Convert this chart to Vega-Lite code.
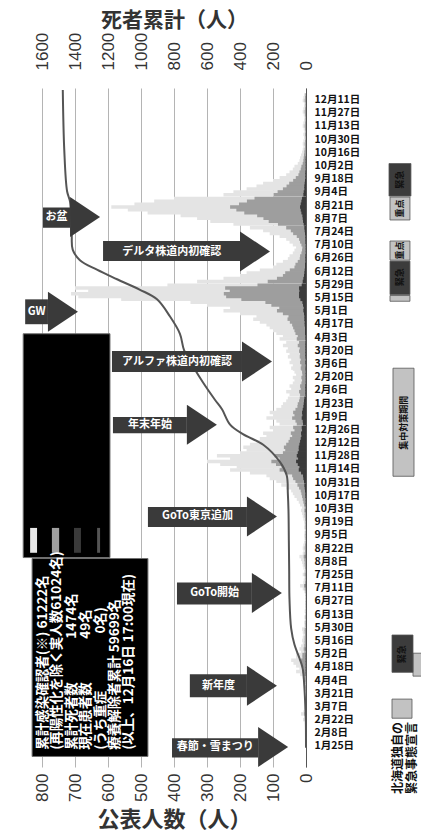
{
"$schema": "https://vega.github.io/schema/vega-lite/v6.json",
"width": 264,
"height": 679,
"autosize": "none",
"padding": {"left": 42, "top": 88, "right": 115, "bottom": 69},
"background": "#ffffff",
"config": {"view": {"stroke": null}, "font": "Noto Sans CJK JP"},
"datasets": {
"cases": [
{"d":"2020-01-28","t":1,"m":0,"k":0},
{"d":"2020-02-01","t":0,"m":0,"k":0},{"d":"2020-02-04","t":0,"m":0,"k":0},{"d":"2020-02-07","t":0,"m":0,"k":0},{"d":"2020-02-10","t":0,"m":0,"k":0},{"d":"2020-02-13","t":1,"m":0,"k":0},{"d":"2020-02-16","t":2,"m":1,"k":0},{"d":"2020-02-19","t":3,"m":1,"k":0},{"d":"2020-02-22","t":9,"m":3,"k":0},{"d":"2020-02-25","t":5,"m":2,"k":0},{"d":"2020-02-28","t":15,"m":5,"k":1},
{"d":"2020-03-01","t":8,"m":3,"k":0},{"d":"2020-03-04","t":5,"m":2,"k":0},{"d":"2020-03-07","t":4,"m":1,"k":0},{"d":"2020-03-10","t":3,"m":1,"k":0},{"d":"2020-03-13","t":4,"m":1,"k":0},{"d":"2020-03-16","t":2,"m":1,"k":0},{"d":"2020-03-19","t":1,"m":0,"k":0},{"d":"2020-03-22","t":1,"m":0,"k":0},{"d":"2020-03-25","t":3,"m":1,"k":0},{"d":"2020-03-28","t":5,"m":2,"k":0},
{"d":"2020-04-01","t":5,"m":2,"k":0},{"d":"2020-04-04","t":8,"m":3,"k":0},{"d":"2020-04-07","t":10,"m":4,"k":0},{"d":"2020-04-10","t":18,"m":6,"k":1},{"d":"2020-04-13","t":30,"m":11,"k":1},{"d":"2020-04-16","t":20,"m":7,"k":1},{"d":"2020-04-19","t":30,"m":11,"k":1},{"d":"2020-04-22","t":38,"m":13,"k":1},{"d":"2020-04-25","t":45,"m":16,"k":1},{"d":"2020-04-28","t":30,"m":11,"k":1},
{"d":"2020-05-01","t":30,"m":11,"k":1},{"d":"2020-05-04","t":15,"m":5,"k":0},{"d":"2020-05-07","t":20,"m":7,"k":1},{"d":"2020-05-10","t":15,"m":5,"k":0},{"d":"2020-05-13","t":10,"m":4,"k":0},{"d":"2020-05-16","t":12,"m":4,"k":0},{"d":"2020-05-19","t":10,"m":4,"k":0},{"d":"2020-05-22","t":8,"m":3,"k":0},{"d":"2020-05-25","t":10,"m":4,"k":0},{"d":"2020-05-28","t":12,"m":4,"k":0},
{"d":"2020-06-01","t":5,"m":2,"k":0},{"d":"2020-06-04","t":6,"m":2,"k":0},{"d":"2020-06-07","t":4,"m":1,"k":0},{"d":"2020-06-10","t":5,"m":2,"k":0},{"d":"2020-06-13","t":3,"m":1,"k":0},{"d":"2020-06-16","t":4,"m":1,"k":0},{"d":"2020-06-19","t":2,"m":1,"k":0},{"d":"2020-06-22","t":3,"m":1,"k":0},{"d":"2020-06-25","t":3,"m":1,"k":0},{"d":"2020-06-28","t":2,"m":1,"k":0},
{"d":"2020-07-01","t":2,"m":1,"k":0},{"d":"2020-07-04","t":3,"m":1,"k":0},{"d":"2020-07-07","t":5,"m":2,"k":0},{"d":"2020-07-10","t":10,"m":4,"k":0},{"d":"2020-07-13","t":18,"m":6,"k":1},{"d":"2020-07-16","t":8,"m":3,"k":0},{"d":"2020-07-19","t":7,"m":2,"k":0},{"d":"2020-07-22","t":5,"m":2,"k":0},{"d":"2020-07-25","t":10,"m":4,"k":0},{"d":"2020-07-28","t":6,"m":2,"k":0},
{"d":"2020-08-01","t":8,"m":3,"k":0},{"d":"2020-08-04","t":10,"m":4,"k":0},{"d":"2020-08-07","t":12,"m":4,"k":0},{"d":"2020-08-10","t":15,"m":5,"k":0},{"d":"2020-08-13","t":20,"m":7,"k":1},{"d":"2020-08-16","t":10,"m":4,"k":0},{"d":"2020-08-19","t":8,"m":3,"k":0},{"d":"2020-08-22","t":10,"m":4,"k":0},{"d":"2020-08-25","t":8,"m":3,"k":0},{"d":"2020-08-28","t":6,"m":2,"k":0},
{"d":"2020-09-01","t":5,"m":2,"k":0},{"d":"2020-09-04","t":6,"m":2,"k":0},{"d":"2020-09-07","t":5,"m":2,"k":0},{"d":"2020-09-10","t":4,"m":1,"k":0},{"d":"2020-09-13","t":6,"m":2,"k":0},{"d":"2020-09-16","t":5,"m":2,"k":0},{"d":"2020-09-19","t":6,"m":2,"k":0},{"d":"2020-09-22","t":8,"m":3,"k":0},{"d":"2020-09-25","t":10,"m":4,"k":0},{"d":"2020-09-28","t":12,"m":4,"k":0},
{"d":"2020-10-01","t":15,"m":5,"k":1},{"d":"2020-10-04","t":12,"m":4,"k":0},{"d":"2020-10-07","t":18,"m":6,"k":1},{"d":"2020-10-10","t":22,"m":8,"k":1},{"d":"2020-10-13","t":28,"m":10,"k":1},{"d":"2020-10-16","t":35,"m":12,"k":2},{"d":"2020-10-19","t":40,"m":14,"k":2},{"d":"2020-10-22","t":45,"m":16,"k":3},{"d":"2020-10-25","t":60,"m":21,"k":4},{"d":"2020-10-28","t":75,"m":26,"k":5},
{"d":"2020-11-01","t":90,"m":32,"k":6},{"d":"2020-11-04","t":110,"m":39,"k":8},{"d":"2020-11-07","t":120,"m":42,"k":9},{"d":"2020-11-10","t":170,"m":60,"k":15},{"d":"2020-11-13","t":230,"m":80,"k":22},{"d":"2020-11-16","t":210,"m":74,"k":20},{"d":"2020-11-19","t":260,"m":91,"k":25},{"d":"2020-11-22","t":300,"m":105,"k":30},{"d":"2020-11-25","t":230,"m":80,"k":24},{"d":"2020-11-28","t":270,"m":95,"k":28},
{"d":"2020-12-01","t":200,"m":70,"k":25},{"d":"2020-12-04","t":180,"m":63,"k":22},{"d":"2020-12-07","t":190,"m":67,"k":22},{"d":"2020-12-10","t":170,"m":60,"k":20},{"d":"2020-12-13","t":150,"m":53,"k":18},{"d":"2020-12-16","t":140,"m":49,"k":16},{"d":"2020-12-19","t":120,"m":42,"k":14},{"d":"2020-12-22","t":130,"m":46,"k":15},{"d":"2020-12-25","t":100,"m":35,"k":12},{"d":"2020-12-28","t":110,"m":39,"k":13},
{"d":"2021-01-01","t":80,"m":28,"k":9},{"d":"2021-01-04","t":90,"m":32,"k":10},{"d":"2021-01-07","t":120,"m":42,"k":13},{"d":"2021-01-10","t":100,"m":35,"k":11},{"d":"2021-01-13","t":110,"m":39,"k":12},{"d":"2021-01-16","t":90,"m":32,"k":10},{"d":"2021-01-19","t":75,"m":26,"k":8},{"d":"2021-01-22","t":70,"m":25,"k":7},{"d":"2021-01-25","t":60,"m":21,"k":6},{"d":"2021-01-28","t":55,"m":19,"k":5},
{"d":"2021-02-01","t":50,"m":18,"k":2},{"d":"2021-02-04","t":60,"m":21,"k":2},{"d":"2021-02-07","t":45,"m":16,"k":2},{"d":"2021-02-10","t":50,"m":18,"k":2},{"d":"2021-02-13","t":40,"m":14,"k":1},{"d":"2021-02-16","t":35,"m":12,"k":1},{"d":"2021-02-19","t":40,"m":14,"k":1},{"d":"2021-02-22","t":30,"m":11,"k":1},{"d":"2021-02-25","t":35,"m":12,"k":1},{"d":"2021-02-28","t":40,"m":14,"k":1},
{"d":"2021-03-01","t":45,"m":16,"k":1},{"d":"2021-03-04","t":40,"m":14,"k":1},{"d":"2021-03-07","t":50,"m":18,"k":2},{"d":"2021-03-10","t":45,"m":16,"k":1},{"d":"2021-03-13","t":55,"m":19,"k":2},{"d":"2021-03-16","t":50,"m":18,"k":2},{"d":"2021-03-19","t":60,"m":21,"k":2},{"d":"2021-03-22","t":55,"m":19,"k":2},{"d":"2021-03-25","t":70,"m":25,"k":2},{"d":"2021-03-28","t":60,"m":21,"k":2},
{"d":"2021-04-01","t":80,"m":28,"k":2},{"d":"2021-04-04","t":70,"m":25,"k":2},{"d":"2021-04-07","t":90,"m":32,"k":3},{"d":"2021-04-10","t":100,"m":35,"k":3},{"d":"2021-04-13","t":110,"m":39,"k":3},{"d":"2021-04-16","t":120,"m":42,"k":4},{"d":"2021-04-19","t":140,"m":49,"k":4},{"d":"2021-04-22","t":160,"m":56,"k":5},{"d":"2021-04-25","t":150,"m":53,"k":5},{"d":"2021-04-28","t":200,"m":70,"k":6},
{"d":"2021-05-01","t":250,"m":88,"k":8},{"d":"2021-05-04","t":230,"m":81,"k":7},{"d":"2021-05-07","t":300,"m":105,"k":9},{"d":"2021-05-10","t":350,"m":123,"k":11},{"d":"2021-05-13","t":560,"m":196,"k":17},{"d":"2021-05-16","t":690,"m":242,"k":21},{"d":"2021-05-19","t":712,"m":249,"k":21},{"d":"2021-05-22","t":660,"m":231,"k":20},{"d":"2021-05-25","t":700,"m":245,"k":21},{"d":"2021-05-28","t":420,"m":147,"k":13},
{"d":"2021-06-01","t":330,"m":116,"k":10},{"d":"2021-06-04","t":250,"m":88,"k":8},{"d":"2021-06-07","t":200,"m":70,"k":6},{"d":"2021-06-10","t":180,"m":63,"k":5},{"d":"2021-06-13","t":140,"m":49,"k":4},{"d":"2021-06-16","t":100,"m":35,"k":3},{"d":"2021-06-19","t":90,"m":32,"k":3},{"d":"2021-06-22","t":70,"m":25,"k":2},{"d":"2021-06-25","t":55,"m":19,"k":2},{"d":"2021-06-28","t":50,"m":18,"k":2},
{"d":"2021-07-01","t":40,"m":14,"k":1},{"d":"2021-07-04","t":35,"m":12,"k":1},{"d":"2021-07-07","t":30,"m":11,"k":1},{"d":"2021-07-10","t":40,"m":14,"k":1},{"d":"2021-07-13","t":50,"m":18,"k":2},{"d":"2021-07-16","t":60,"m":21,"k":2},{"d":"2021-07-19","t":80,"m":28,"k":2},{"d":"2021-07-22","t":110,"m":39,"k":3},{"d":"2021-07-25","t":130,"m":46,"k":4},{"d":"2021-07-28","t":170,"m":60,"k":5},
{"d":"2021-08-01","t":220,"m":85,"k":7},{"d":"2021-08-04","t":290,"m":113,"k":9},{"d":"2021-08-07","t":330,"m":129,"k":10},{"d":"2021-08-10","t":380,"m":148,"k":11},{"d":"2021-08-13","t":480,"m":187,"k":14},{"d":"2021-08-16","t":540,"m":211,"k":16},{"d":"2021-08-19","t":590,"m":230,"k":18},{"d":"2021-08-22","t":520,"m":203,"k":16},{"d":"2021-08-25","t":460,"m":179,"k":14},{"d":"2021-08-28","t":400,"m":156,"k":12},
{"d":"2021-09-01","t":250,"m":98,"k":8},{"d":"2021-09-04","t":220,"m":86,"k":7},{"d":"2021-09-07","t":180,"m":70,"k":5},{"d":"2021-09-10","t":150,"m":59,"k":5},{"d":"2021-09-13","t":130,"m":51,"k":4},{"d":"2021-09-16","t":100,"m":39,"k":3},{"d":"2021-09-19","t":80,"m":31,"k":2},{"d":"2021-09-22","t":60,"m":23,"k":2},{"d":"2021-09-25","t":50,"m":20,"k":2},{"d":"2021-09-28","t":40,"m":16,"k":1},
{"d":"2021-10-01","t":35,"m":14,"k":1},{"d":"2021-10-04","t":25,"m":10,"k":1},{"d":"2021-10-07","t":20,"m":8,"k":1},{"d":"2021-10-10","t":18,"m":7,"k":1},{"d":"2021-10-13","t":15,"m":6,"k":0},{"d":"2021-10-16","t":12,"m":5,"k":0},{"d":"2021-10-19","t":10,"m":4,"k":0},{"d":"2021-10-22","t":8,"m":3,"k":0},{"d":"2021-10-25","t":10,"m":4,"k":0},{"d":"2021-10-28","t":8,"m":3,"k":0},
{"d":"2021-11-01","t":6,"m":2,"k":0},{"d":"2021-11-04","t":8,"m":3,"k":0},{"d":"2021-11-07","t":5,"m":2,"k":0},{"d":"2021-11-10","t":7,"m":3,"k":0},{"d":"2021-11-13","t":10,"m":4,"k":0},{"d":"2021-11-16","t":8,"m":3,"k":0},{"d":"2021-11-19","t":6,"m":2,"k":0},{"d":"2021-11-22","t":5,"m":2,"k":0},{"d":"2021-11-25","t":7,"m":3,"k":0},{"d":"2021-11-28","t":10,"m":4,"k":0},
{"d":"2021-12-01","t":8,"m":3,"k":0},{"d":"2021-12-04","t":6,"m":2,"k":0},{"d":"2021-12-07","t":5,"m":2,"k":0},{"d":"2021-12-10","t":10,"m":4,"k":0},{"d":"2021-12-13","t":8,"m":3,"k":0},{"d":"2021-12-16","t":6,"m":2,"k":0}
],
"deaths": [
{"d":"2020-01-28","n":0},{"d":"2020-02-25","n":1},{"d":"2020-03-15","n":5},{"d":"2020-04-01","n":10},{"d":"2020-04-20","n":20},{"d":"2020-05-01","n":40},{"d":"2020-05-15","n":70},{"d":"2020-06-01","n":90},{"d":"2020-07-01","n":100},{"d":"2020-08-01","n":102},{"d":"2020-09-01","n":104},{"d":"2020-10-01","n":106},{"d":"2020-10-20","n":110},{"d":"2020-11-08","n":117},{"d":"2020-11-22","n":158},{"d":"2020-12-10","n":259},{"d":"2020-12-21","n":382},{"d":"2020-12-31","n":460},{"d":"2021-01-16","n":509},{"d":"2021-01-26","n":552},{"d":"2021-02-13","n":624},{"d":"2021-03-02","n":685},{"d":"2021-03-19","n":739},{"d":"2021-04-05","n":764},{"d":"2021-04-23","n":824},{"d":"2021-05-11","n":903},{"d":"2021-05-21","n":1006},{"d":"2021-06-01","n":1145},{"d":"2021-06-11","n":1267},{"d":"2021-06-21","n":1370},{"d":"2021-07-02","n":1414},{"d":"2021-07-18","n":1420},{"d":"2021-08-21","n":1430},{"d":"2021-09-01","n":1448},{"d":"2021-10-14","n":1465},{"d":"2021-12-16","n":1474}
],
"boxes": [
{"kind":"info","v1":830,"v2":479,"d1":"2020-01-19","d2":"2020-08-13"},
{"kind":"legend","v1":857,"v2":594,"d1":"2020-08-14","d2":"2021-04-05"}
],
"swatch": [
{"s":"その他","v1":836,"v2":815,"d1":"2020-08-19","d2":"2020-09-14"},
{"s":"札幌市","v1":770,"v2":748,"d1":"2020-08-19","d2":"2020-09-14"},
{"s":"旭川市","v1":703,"v2":682,"d1":"2020-08-19","d2":"2020-09-14"},
{"s":"死者累計","v1":633,"v2":624,"d1":"2020-08-19","d2":"2020-09-14"}
],
"info": [
{"txt":"累計感染確認者(※) 61222名\n(再陽性化を除く実人数61024名)\n累計死者数　　　  1474名\n現在患者数　　　   49名\n(うち重症　　　　   0名)\n療養解除者累計 59699名\n(以上、12月16日 17:00現在)","v":818,"d":"2020-01-26"}
],
"strip": [
{"kind":"重点","v1":-254.5,"v2":-315,"d1":"2021-08-02","d2":"2021-08-26"},
{"kind":"緊急","v1":-251.5,"v2":-318,"d1":"2021-08-27","d2":"2021-09-30"},
{"kind":"重点","v1":-254.5,"v2":-315,"d1":"2021-06-21","d2":"2021-07-11"},
{"kind":"重点","v1":-254.5,"v2":-315,"d1":"2021-05-09","d2":"2021-05-15"},
{"kind":"緊急","v1":-254.5,"v2":-315,"d1":"2021-05-16","d2":"2021-06-20"},
{"kind":"集中対策期間","v1":-263.6,"v2":-327.3,"d1":"2020-11-07","d2":"2021-02-28"},
{"kind":"北海道独自","v1":-324.2,"v2":-362,"d1":"2020-04-12","d2":"2020-05-06"},
{"kind":"緊急","v1":-260.6,"v2":-324.2,"d1":"2020-04-16","d2":"2020-05-25"},
{"kind":"北海道独自","v1":-260.6,"v2":-321.2,"d1":"2020-02-28","d2":"2020-03-19"}
],
"striplabels": [
{"label":"緊急","v":-285,"d":"2021-09-13"},
{"label":"重点","v":-285,"d":"2021-08-14"},
{"label":"重点","v":-285,"d":"2021-07-01"},
{"label":"緊急","v":-285,"d":"2021-06-03"},
{"label":"集中対策期間","v":-295.5,"d":"2021-01-02"},
{"label":"緊急","v":-292,"d":"2020-05-05"}
],
"notes": [
{"label":"北海道独自の","v":-278,"d":"2020-02-24"},
{"label":"緊急事態宣言","v":-320,"d":"2020-02-24"}
],
"arrows": [
{"label":"お盆","b1":797,"b2":715,"tc":756,"d1":"2021-07-25","d2":"2021-08-15","dc":"2021-08-05"},
{"label":"デルタ株道内初確認","b1":615,"b2":200,"tc":407,"d1":"2021-06-20","d2":"2021-07-11","dc":"2021-06-30"},
{"label":"GW","b1":851,"b2":782,"tc":816,"d1":"2021-04-15","d2":"2021-05-11","dc":"2021-04-28"},
{"label":"アルファ株道内初確認","b1":588,"b2":194,"tc":391,"d1":"2021-02-24","d2":"2021-03-18","dc":"2021-03-07"},
{"label":"年末年始","b1":585,"b2":361,"tc":473,"d1":"2020-12-22","d2":"2021-01-08","dc":"2020-12-31"},
{"label":"GoTo東京追加","b1":479,"b2":179,"tc":329,"d1":"2020-09-15","d2":"2020-10-06","dc":"2020-09-26"},
{"label":"GoTo開始","b1":391,"b2":164,"tc":277,"d1":"2020-06-26","d2":"2020-07-19","dc":"2020-07-08"},
{"label":"新年度","b1":352,"b2":179,"tc":265,"d1":"2020-03-21","d2":"2020-04-14","dc":"2020-04-02"},
{"label":"春節・雪まつり","b1":406,"b2":145,"tc":275,"d1":"2020-01-18","d2":"2020-02-07","dc":"2020-01-29"}
]
},
"layer": [
{
"data": {"name": "cases"},
"mark": {"type": "bar", "orient": "horizontal", "size": 3.5, "color": "#e4e4e4"},
"encoding": {
"y": {"field": "d", "type": "temporal",
"scale": {"type": "utc", "nice": false, "domain": [{"year":2020,"month":1,"date":8,"utc":true},{"year":2021,"month":12,"date":18,"utc":true}]},
"axis": {"orient": "right", "title": null, "grid": false, "ticks": false, "domain": true, "domainColor": "#555", "labelOverlap": false, "labelBound": false,
"labelFontSize": 10.5, "labelFontWeight": "bold", "labelColor": "#111", "labelPadding": 8,
"labelExpr": "utcFormat(datum.value, '%-m月%-d日')",
"values": [1579910400000,1581120000000,1582329600000,1583539200000,1584748800000,1585958400000,1587168000000,1588377600000,1589587200000,1590796800000,1592006400000,1593216000000,1594425600000,1595635200000,1596844800000,1598054400000,1599264000000,1600473600000,1601683200000,1602892800000,1604102400000,1605312000000,1606521600000,1607731200000,1608940800000,1610150400000,1611360000000,1612569600000,1613779200000,1614988800000,1616198400000,1617408000000,1618617600000,1619827200000,1621036800000,1622246400000,1623456000000,1624665600000,1625875200000,1627084800000,1628294400000,1629504000000,1630713600000,1631923200000,1633132800000,1634342400000,1635552000000,1636761600000,1637971200000,1639180800000]}},
"x": {"field": "t", "type": "quantitative", "stack": null,
"scale": {"domain": [0, 800], "reverse": true, "nice": false},
"axis": {"orient": "bottom", "values": [0,100,200,300,400,500,600,700,800], "format": "d", "labelAngle": 270, "labelFontSize": 17, "labelFont": "Liberation Sans", "labelColor": "#333", "labelPadding": 6, "ticks": false, "domain": false, "grid": true, "gridColor": "#b4b4b4", "gridWidth": 1, "labelOverlap": false,
"title": "公表人数（人）", "titleFontSize": 22, "titleFontWeight": "bold", "titleColor": "#333", "titleBaseline": "middle", "titleY": 52}}
}
},
{
"data": {"name": "cases"},
"mark": {"type": "bar", "orient": "horizontal", "size": 3.5, "color": "#9e9e9e"},
"encoding": {
"y": {"field": "d", "type": "temporal", "scale": {"type": "utc", "nice": false, "domain": [{"year":2020,"month":1,"date":8,"utc":true},{"year":2021,"month":12,"date":18,"utc":true}]}, "axis": null},
"x": {"field": "m", "type": "quantitative", "stack": null, "scale": {"domain": [0, 800], "reverse": true, "nice": false}, "axis": null}
}
},
{
"data": {"name": "cases"},
"mark": {"type": "bar", "orient": "horizontal", "size": 3.5, "color": "#3a3a3a"},
"encoding": {
"y": {"field": "d", "type": "temporal", "scale": {"type": "utc", "nice": false, "domain": [{"year":2020,"month":1,"date":8,"utc":true},{"year":2021,"month":12,"date":18,"utc":true}]}, "axis": null},
"x": {"field": "k", "type": "quantitative", "stack": null, "scale": {"domain": [0, 800], "reverse": true, "nice": false}, "axis": null}
}
},
{
"data": {"name": "deaths"},
"mark": {"type": "line", "color": "#555555", "strokeWidth": 2, "interpolate": "catmull-rom"},
"encoding": {
"y": {"field": "d", "type": "temporal", "scale": {"type": "utc", "nice": false, "domain": [{"year":2020,"month":1,"date":8,"utc":true},{"year":2021,"month":12,"date":18,"utc":true}]}, "axis": null},
"x": {"field": "n", "type": "quantitative", "scale": {"domain": [0, 1600], "reverse": true, "nice": false},
"axis": {"orient": "top", "values": [0,200,400,600,800,1000,1200,1400,1600], "format": "d", "labelAngle": 270, "labelFontSize": 17, "labelFont": "Liberation Sans", "labelColor": "#333", "labelPadding": 18, "ticks": false, "domain": false, "grid": false, "labelOverlap": false,
"title": "死者累計（人）", "titleFontSize": 21, "titleFontWeight": "bold", "titleColor": "#333", "titleBaseline": "middle", "titleY": -68}},
"order": {"field": "d", "type": "temporal"}
}
},
{
"data": {"name": "boxes"},
"mark": {"type": "rect", "color": "#000000", "stroke": "#707070", "strokeWidth": 1},
"encoding": {
"y": {"field": "d1", "type": "temporal", "scale": {"type": "utc", "nice": false, "domain": [{"year":2020,"month":1,"date":8,"utc":true},{"year":2021,"month":12,"date":18,"utc":true}]}, "axis": null},
"y2": {"field": "d2"},
"x": {"field": "v1", "type": "quantitative", "scale": {"domain": [0, 800], "reverse": true, "nice": false}, "axis": null},
"x2": {"field": "v2"}
}
},
{
"data": {"name": "swatch"},
"mark": {"type": "rect"},
"encoding": {
"y": {"field": "d1", "type": "temporal", "scale": {"type": "utc", "nice": false, "domain": [{"year":2020,"month":1,"date":8,"utc":true},{"year":2021,"month":12,"date":18,"utc":true}]}, "axis": null},
"y2": {"field": "d2"},
"x": {"field": "v1", "type": "quantitative", "scale": {"domain": [0, 800], "reverse": true, "nice": false}, "axis": null},
"x2": {"field": "v2"},
"color": {"field": "s", "type": "nominal", "legend": null, "scale": {"domain": ["その他","札幌市","旭川市","死者累計"], "range": ["#e8e8e8","#a0a0a0","#3a3a3a","#555555"]}}
}
},
{
"data": {"name": "info"},
"mark": {"type": "text", "angle": 270, "align": "left", "baseline": "top", "lineBreak": "\n", "lineHeight": 14.4, "fontSize": 13.5, "fontWeight": "bold", "color": "#ffffff"},
"encoding": {
"y": {"field": "d", "type": "temporal", "scale": {"type": "utc", "nice": false, "domain": [{"year":2020,"month":1,"date":8,"utc":true},{"year":2021,"month":12,"date":18,"utc":true}]}, "axis": null},
"x": {"field": "v", "type": "quantitative", "scale": {"domain": [0, 800], "reverse": true, "nice": false}, "axis": null},
"text": {"field": "txt"}
}
},
{
"data": {"name": "strip"},
"mark": {"type": "rect", "stroke": "#555555", "strokeWidth": 0.8},
"encoding": {
"y": {"field": "d1", "type": "temporal", "scale": {"type": "utc", "nice": false, "domain": [{"year":2020,"month":1,"date":8,"utc":true},{"year":2021,"month":12,"date":18,"utc":true}]}, "axis": null},
"y2": {"field": "d2"},
"x": {"field": "v1", "type": "quantitative", "scale": {"domain": [0, 800], "reverse": true, "nice": false}, "axis": null},
"x2": {"field": "v2"},
"color": {"field": "kind", "type": "nominal", "legend": null, "scale": {"domain": ["緊急","重点","集中対策期間","北海道独自"], "range": ["#3c3c3c","#c2c2c2","#c2c2c2","#c2c2c2"]}}
}
},
{
"data": {"name": "striplabels"},
"mark": {"type": "text", "angle": 270, "align": "center", "baseline": "middle", "fontSize": 9, "fontWeight": "bold", "color": "#111111"},
"encoding": {
"y": {"field": "d", "type": "temporal", "scale": {"type": "utc", "nice": false, "domain": [{"year":2020,"month":1,"date":8,"utc":true},{"year":2021,"month":12,"date":18,"utc":true}]}, "axis": null},
"x": {"field": "v", "type": "quantitative", "scale": {"domain": [0, 800], "reverse": true, "nice": false}, "axis": null},
"text": {"field": "label"}
}
},
{
"data": {"name": "notes"},
"mark": {"type": "text", "angle": 270, "align": "right", "baseline": "middle", "fontSize": 12, "fontWeight": "bold", "color": "#111111"},
"encoding": {
"y": {"field": "d", "type": "temporal", "scale": {"type": "utc", "nice": false, "domain": [{"year":2020,"month":1,"date":8,"utc":true},{"year":2021,"month":12,"date":18,"utc":true}]}, "axis": null},
"x": {"field": "v", "type": "quantitative", "scale": {"domain": [0, 800], "reverse": true, "nice": false}, "axis": null},
"text": {"field": "label"}
}
},
{
"data": {"name": "arrows"},
"mark": {"type": "rect", "color": "#3a3a3a"},
"encoding": {
"y": {"field": "d1", "type": "temporal", "scale": {"type": "utc", "nice": false, "domain": [{"year":2020,"month":1,"date":8,"utc":true},{"year":2021,"month":12,"date":18,"utc":true}]}, "axis": null},
"y2": {"field": "d2"},
"x": {"field": "b1", "type": "quantitative", "scale": {"domain": [0, 800], "reverse": true, "nice": false}, "axis": null},
"x2": {"field": "b2"}
}
},
{
"data": {"name": "arrows"},
"mark": {"type": "point", "shape": "M0,-1L1.5,0L0,1Z", "size": 1600, "filled": true, "color": "#3a3a3a", "opacity": 1, "strokeWidth": 0},
"encoding": {
"y": {"field": "dc", "type": "temporal", "scale": {"type": "utc", "nice": false, "domain": [{"year":2020,"month":1,"date":8,"utc":true},{"year":2021,"month":12,"date":18,"utc":true}]}, "axis": null},
"x": {"field": "b2", "type": "quantitative", "scale": {"domain": [0, 800], "reverse": true, "nice": false}, "axis": null}
}
},
{
"data": {"name": "arrows"},
"mark": {"type": "text", "align": "center", "baseline": "middle", "fontSize": 11, "fontWeight": "bold", "color": "#ffffff"},
"encoding": {
"y": {"field": "dc", "type": "temporal", "scale": {"type": "utc", "nice": false, "domain": [{"year":2020,"month":1,"date":8,"utc":true},{"year":2021,"month":12,"date":18,"utc":true}]}, "axis": null},
"x": {"field": "tc", "type": "quantitative", "scale": {"domain": [0, 800], "reverse": true, "nice": false}, "axis": null},
"text": {"field": "label"}
}
}
],
"resolve": {"scale": {"x": "independent", "y": "independent", "color": "independent"}}
}
